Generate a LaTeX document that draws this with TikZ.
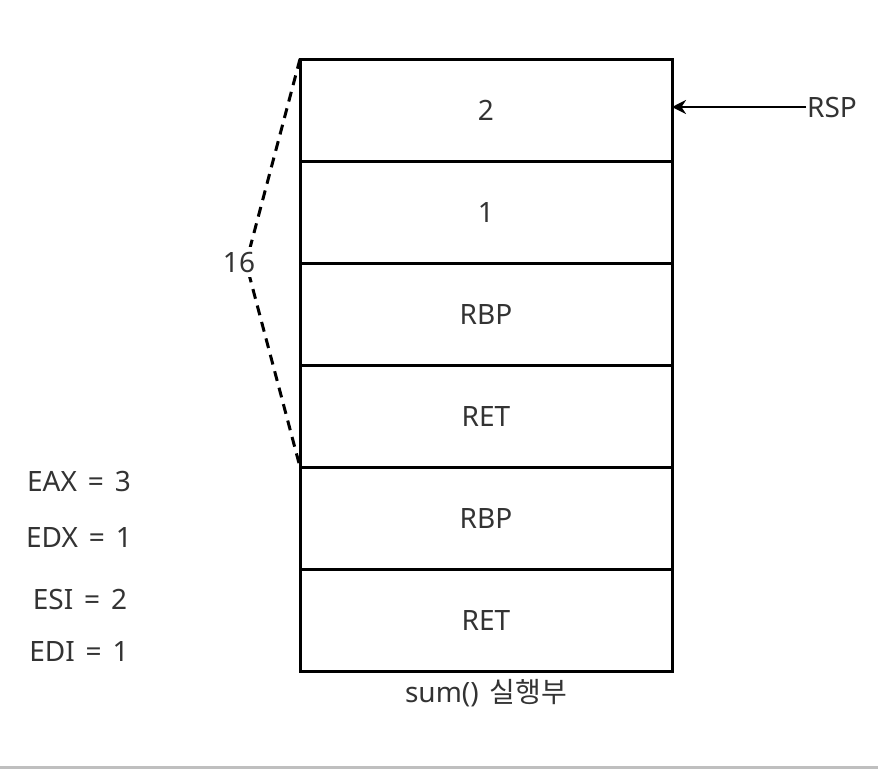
\documentclass[tikz,border=0pt]{standalone}
\usepackage{fontspec}
\setmainfont{Noto Sans}[WordSpace=1.5]
\newfontfamily\kr{Noto Sans CJK KR}[WordSpace=1.5]
\usetikzlibrary{positioning,arrows.meta}
\tikzset{cell/.style={draw,line width=3pt,minimum width=372pt,minimum height=102pt,
                      outer sep=0pt,inner sep=0pt,text=black!80,font=\fontsize{28}{32}\selectfont},
         lbl/.style={text=black!80,font=\fontsize{28}{32}\selectfont,inner sep=1pt}}

\begin{document}
\begin{tikzpicture}[x=1pt,y=1pt]
                   \useasboundingbox (0,0) rectangle (878,-769);
                   \fill[black!25] (0,-766) rectangle (878,-769);
                   % stack frame
                   \node[cell] (c_1) at (486,-110) {2};
                   \node[cell] (c_2) [below=0pt of c_1] {1};
                   \node[cell] (c_3) [below=0pt of c_2] {RBP};
                   \node[cell] (c_4) [below=0pt of c_3] {RET};
                   \node[cell] (c_5) [below=0pt of c_4] {RBP};
                   \node[cell] (c_6) [below=0pt of c_5] {RET};
                   \node[lbl] (cap) [below=7pt of c_6] {sum() {\kr 실행부}};
                   % size brace
                   \coordinate (tip) at (246,-263);
                   \draw[dash pattern=on 10pt off 7pt,line width=3pt] (c_1.north west) -- (tip) -- (c_4.south west);
                   \node[lbl,fill=white,inner sep=5pt] (size) at (239,-262) {16};
                   % stack pointer
                   \node[lbl,anchor=west] (rsp) at (806,-107) {RSP};
                    \path[-{Stealth[length=14pt,width=14pt]},line width=2.5pt]
                    (rsp) edge (c_1.east |- rsp.west);
                   % registers
                   \node[lbl] (eax) at (79,-481) {EAX = 3};
                   \node[lbl] (edx) at (79,-537) {EDX = 1};
                   \node[lbl] (esi) at (80,-599) {ESI = 2};
                   \node[lbl] (edi) at (79,-651) {EDI = 1};
                \end{tikzpicture}
\end{document}
